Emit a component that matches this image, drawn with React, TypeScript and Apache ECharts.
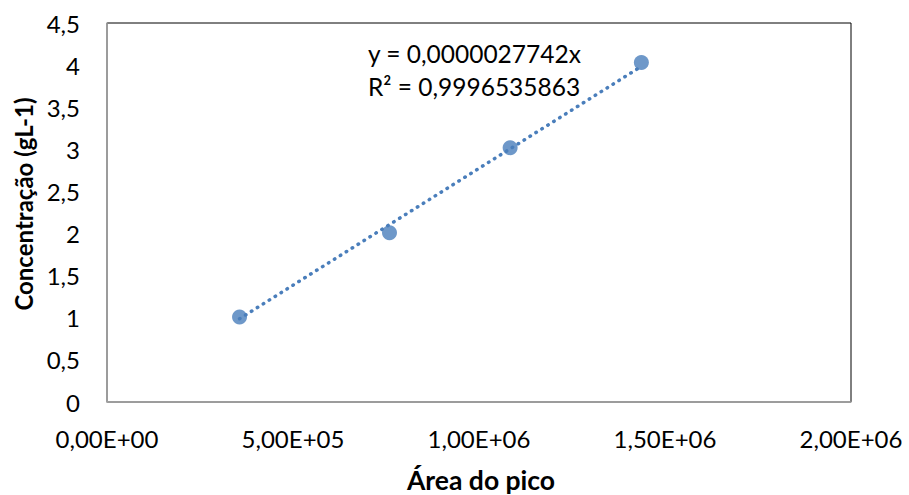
import React, { useEffect, useRef } from "react";
import * as echarts from "echarts";

const areaPico = [356300, 759400, 1083700, 1436500];
const concentracao = [1.01, 2.01, 3.02, 4.03];
const slope = 0.0000027742;
const equationText = "y = 0,0000027742x";
const r2Text = "R² = 0,9996535863";
const xTitle = "Área do pico";
const yTitle = "Concentração (gL-1)";

const FONT = "Lato, sans-serif";
const BLUE = "#4A7EBB";

function fmtX(v: number): string {
  if (v === 0) return "0,00E+00";
  const exp = Math.floor(Math.log10(Math.abs(v)));
  const mant = v / Math.pow(10, exp);
  const e = (exp < 10 ? "0" : "") + exp;
  return mant.toFixed(2).replace(".", ",") + "E+" + e;
}

export default function App() {
  const ref = useRef<HTMLDivElement>(null);
  useEffect(() => {
    if (!ref.current) return;
    const chart = echarts.init(ref.current, null, { renderer: "svg" });
    const data = areaPico.map((x, i) => [x, concentracao[i]]);
    const xMin = Math.min(...areaPico);
    const xMax = Math.max(...areaPico);
    const trend = [
      [xMin, slope * xMin],
      [xMax, slope * xMax],
    ];
    chart.setOption({
      animation: false,
      grid: {
        left: 107,
        right: 58,
        top: 23,
        bottom: 93,
        show: true,
        borderColor: "#000",
        borderWidth: 1,
        backgroundColor: "#fff",
      },
      xAxis: {
        type: "value",
        min: 0,
        max: 2000000,
        interval: 500000,
        splitLine: { show: false },
        axisLine: { show: true, lineStyle: { color: "#A6A6A6", width: 1.5 } },
        axisTick: { show: false },
        axisLabel: {
          formatter: (v: number) => fmtX(v),
          fontFamily: FONT,
          fontSize: 24,
          color: "#000",
          margin: 24,
        },
      },
      yAxis: {
        type: "value",
        min: 0,
        max: 4.5,
        interval: 0.5,
        splitLine: { show: false },
        axisLine: { show: true, lineStyle: { color: "#A6A6A6", width: 1.5 } },
        axisTick: { show: false },
        axisLabel: {
          formatter: (v: number) => String(v).replace(".", ","),
          fontFamily: FONT,
          fontSize: 24,
          color: "#000",
          margin: 27,
        },
      },
      series: [
        {
          type: "line",
          data: trend,
          symbol: "none",
          lineStyle: { color: BLUE, width: 3.5, type: [0.5, 6.5], cap: "round" },
          z: 2,
        },
        {
          type: "scatter",
          data,
          symbol: "circle",
          symbolSize: 15,
          itemStyle: { color: BLUE },
          z: 3,
        },
      ],
      graphic: [
        {
          type: "text",
          x: 368,
          y: 53,
          style: { text: equationText, font: `24.5px ${FONT}`, fill: "#000", textVerticalAlign: "middle" },
        },
        {
          type: "text",
          x: 368,
          y: 86,
          style: { text: r2Text, font: `24.5px ${FONT}`, fill: "#000", textVerticalAlign: "middle" },
        },
        {
          type: "text",
          x: 481,
          y: 480,
          style: {
            text: xTitle,
            font: `bold 26.5px ${FONT}`,
            fill: "#000",
            textAlign: "center",
            textVerticalAlign: "middle",
          },
        },
        {
          type: "text",
          x: 23,
          y: 204,
          rotation: Math.PI / 2,
          style: {
            text: yTitle,
            font: `bold 24px ${FONT}`,
            fill: "#000",
            textAlign: "center",
            textVerticalAlign: "middle",
          },
        },
      ],
    });
    return () => chart.dispose();
  }, []);
  return <div ref={ref} style={{ width: 909, height: 495, position: "absolute", left: 0, top: 0 }} />;
}
